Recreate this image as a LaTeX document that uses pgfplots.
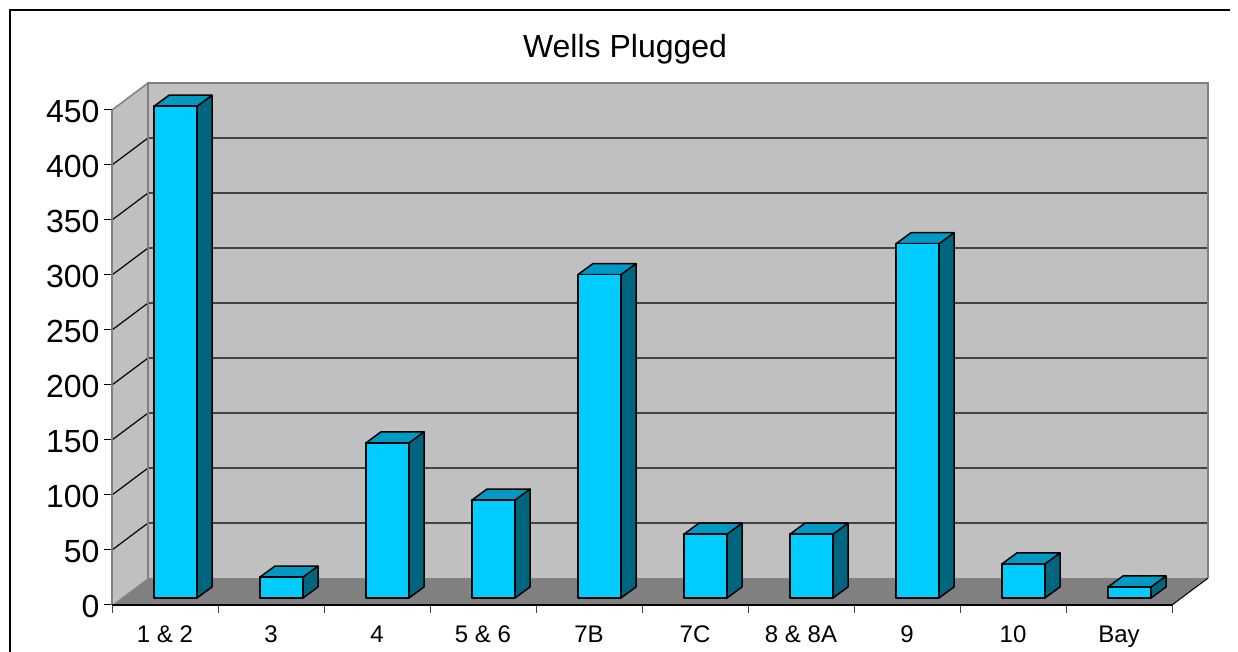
\documentclass[border=0pt]{standalone}
\usepackage{fontspec}
\setmainfont{Liberation Sans}
\usepackage{pgfplots}
\usepackage{pgfplotstable}
\pgfplotsset{compat=1.18}
\definecolor{wallgray}{HTML}{C0C0C0}
\definecolor{edgegray}{HTML}{808080}
\definecolor{floorgray}{HTML}{808080}
\definecolor{barfront}{HTML}{00CCFF}
\definecolor{bartop}{HTML}{0099C4}
\definecolor{barside}{HTML}{006680}

% Wells plugged per district
\pgfplotstableread{
idx v
0 447
1 19
2 141
3 89
4 294
5 58
6 58
7 322
8 31
9 10
}\wells

\begin{document}
\begin{tikzpicture}
\useasboundingbox (0,0) rectangle (1238pt,652pt);
\draw[black, line width=1.5pt] (10pt,-5pt) -- (10pt,642pt) -- (1230pt,642pt);
\begin{axis}[
  at={(112pt,47pt)}, anchor=south west,
  x=106pt, y=1.1pt,
  xmin=-0.5, xmax=9.5, ymin=0, ymax=450,
  enlargelimits=false,
  clip=false,
  axis x line*=bottom, axis y line*=left,
  x axis line style={black, line width=1.5pt},
  y axis line style={edgegray, line width=1.5pt},
  ytick={0,50,...,450},
  xtick={-0.5,0.5,...,9.5},
  x tick label as interval,
  xticklabels={1 \& 2,3,4,5 \& 6,7B,7C,8 \& 8A,9,10,Bay},
  tick align=outside,
  major tick length=8pt,
  x tick style={color=black!75, line width=1pt},
  y tick style={color=black, line width=1pt},
  yticklabel style={font=\fontsize{32}{32}\selectfont, /pgf/number format/assume math mode=true, xshift=-1pt, yshift=-1pt},
  xticklabel style={font=\fontsize{24}{24}\selectfont, yshift=-9pt},
]
% walls and floor
\fill[wallgray] (axis cs:-0.5,0) -- (axis cs:-0.16,24.5) -- (axis cs:-0.16,474.5) -- (axis cs:-0.5,450) -- cycle;
\fill[wallgray] (axis cs:-0.16,24.5) -- (axis cs:9.84,24.5) -- (axis cs:9.84,474.5) -- (axis cs:-0.16,474.5) -- cycle;
\fill[floorgray] (axis cs:-0.5,0) -- (axis cs:9.5,0) -- (axis cs:9.84,24.5) -- (axis cs:-0.16,24.5) -- cycle;
% gridlines
\pgfplotsinvokeforeach{50,100,...,400}{
  \draw[black, line width=1.2pt] (axis cs:-0.5,#1) -- (axis cs:-0.16,#1+24.5) -- (axis cs:9.84,#1+24.5);
}
% wall edges
\draw[edgegray, line width=2.5pt, line join=miter] (axis cs:-0.16,24.5) -- (axis cs:-0.16,474.5) -- (axis cs:9.84,474.5) -- (axis cs:9.84,24.5);
\draw[edgegray, line width=1.5pt] (axis cs:-0.5,450) -- (axis cs:-0.16,474.5);
\draw[edgegray, line width=1.5pt] (axis cs:-0.5,0) -- (axis cs:-0.5,450);
\draw[black, line width=1pt] (axis cs:9.5,0) -- (axis cs:9.84,24.5);
\draw[black, line width=1.5pt] (axis cs:-0.5,0) -- (axis cs:9.5,0);
% bars
\pgfplotsinvokeforeach{0,...,9}{
  \pgfplotstablegetelem{#1}{v}\of\wells
  \pgfmathsetmacro\xa{#1-0.104}
  \pgfmathsetmacro\xb{#1+0.302}
  \pgfmathsetmacro\xc{#1+0.302+0.1415}
  \pgfmathsetmacro\xd{#1-0.104+0.1415}
  \pgfmathsetmacro\yt{\pgfplotsretval+6.4}
  \pgfmathsetmacro\ytt{\pgfplotsretval+16.4}
  \edef\barcmd{%
    \noexpand\addplot[fill=barside, draw=black, line width=1.5pt, line join=round] coordinates {(\xb,6.4) (\xc,16.4) (\xc,\ytt) (\xb,\yt)} -- cycle;
    \noexpand\addplot[fill=bartop, draw=black, line width=1.5pt, line join=round] coordinates {(\xa,\yt) (\xb,\yt) (\xc,\ytt) (\xd,\ytt)} -- cycle;
    \noexpand\addplot[fill=barfront, draw=black, line width=1.5pt, line join=round] coordinates {(\xa,6.4) (\xb,6.4) (\xb,\yt) (\xa,\yt)} -- cycle;
  }
  \barcmd
}
\node[font=\fontsize{32}{32}\selectfont] at (axis cs:4.34,505) {Wells Plugged};
\end{axis}
\end{tikzpicture}
\end{document}
